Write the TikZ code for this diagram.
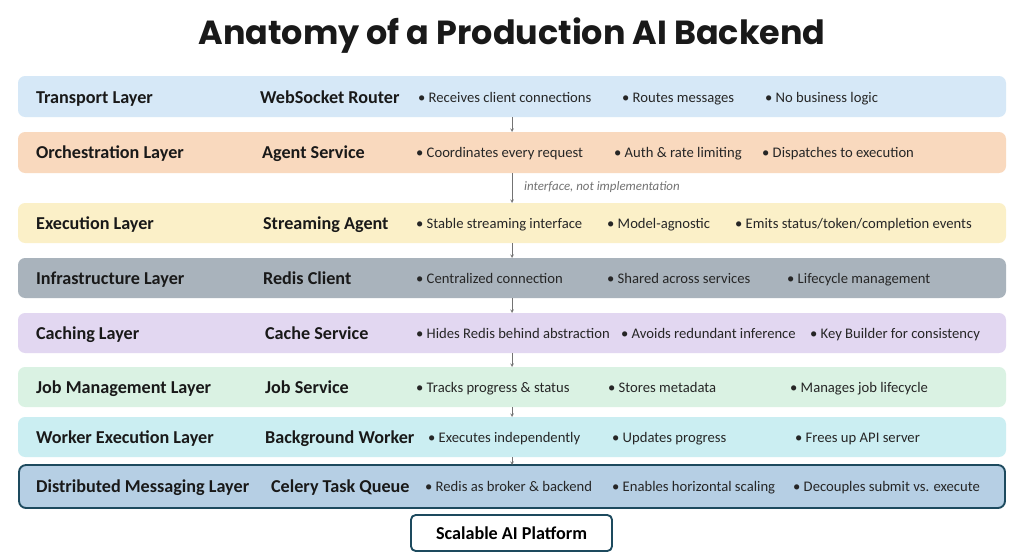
\documentclass[tikz,border=0pt]{standalone}
\usepackage{fontspec}
\setmainfont{Carlito}
\newfontfamily\titlefont{Poppins}
\begin{document}
\begin{tikzpicture}[x=0.03cm,y=-0.03cm,
  band/.style={rounded corners=6pt,draw=none},
  lname/.style={anchor=base west,font=\fontsize{15.5}{17}\selectfont\bfseries,text=black!90},
  comp/.style={anchor=base west,font=\fontsize{15.5}{17}\selectfont\bfseries,text=black!90},
  bul/.style={anchor=base west,font=\fontsize{12.5}{15}\selectfont,text=black!85},
  arr/.style={-stealth,draw=black!55,thin}]
\useasboundingbox (0,0) rectangle (1024,559);
\fill[white] (0,0) rectangle (1024,559);
\node[font=\titlefont\fontsize{28.5}{31}\selectfont\bfseries,text=black!90] (title) at (512,36) {Anatomy of a Production AI Backend};
\definecolor{c1}{HTML}{D6E8F7}\definecolor{c2}{HTML}{F9D9BE}\definecolor{c3}{HTML}{FBF0C8}
\definecolor{c4}{HTML}{A9B3BC}\definecolor{c5}{HTML}{E2D7F1}\definecolor{c6}{HTML}{DAF2E3}
\definecolor{c7}{HTML}{CBEEF2}\definecolor{c8}{HTML}{B6CFE4}\definecolor{c8b}{HTML}{1D4A5E}
% bands
\foreach \n/\t/\b/\c in {b1/76/117/c1,b2/132/173/c2,b3/203/243/c3,b4/258/298/c4,b5/313/353/c5,b6/367/407/c6,b7/417/457/c7}{
  \fill[band,fill=\c] (18,\t) rectangle (1006,\b);
  \coordinate (\n t) at (512,\t); \coordinate (\n b) at (512,\b);
}
\draw[band,fill=c8,draw=c8b,line width=1.6pt] (19,465) rectangle (1005,508);
\coordinate (b8t) at (512,465);
\draw[arr] (b1b) -- (b2t);
\draw[arr] (b2b) -- (b3t);
\node[anchor=west,font=\fontsize{11}{13}\selectfont\itshape,text=black!55] (lbl) at (520,187) {interface, not implementation};
\draw[arr] (b3b) -- (b4t);
\draw[arr] (b4b) -- (b5t);
\draw[arr] (b5b) -- (b6t);
\draw[arr] (b6b) -- (b7t);
\draw[arr] (b7b) -- (b8t);
% rows
\newcommand\rowtxt[9]{%
  \node[lname] at (32,#1+6) {#2};
  \node[comp] at (#3,#1+6) {#4};
  \node[bul] at (#5,#1+5) {• #6};
  \node[bul] at (#7,#1+5) {• #8};
  \node[bul] at #9;}
\rowtxt{97}{Transport Layer}{256}{WebSocket Router}{414}{Receives client connections}{618}{Routes messages}{(761,102) {• No business logic}}
\rowtxt{152}{Orchestration Layer}{258}{Agent Service}{412}{Coordinates every request}{610}{Auth \& rate limiting}{(758,157) {• Dispatches to execution}}
\rowtxt{223}{Execution Layer}{259}{Streaming Agent}{412}{Stable streaming interface}{603}{Model-agnostic}{(731,228) {• Emits status/token/completion events}}
\rowtxt{278}{Infrastructure Layer}{259}{Redis Client}{412}{Centralized connection}{603}{Shared across services}{(783,283) {• Lifecycle management}}
\rowtxt{333}{Caching Layer}{261}{Cache Service}{412}{Hides Redis behind abstraction}{617}{Avoids redundant inference}{(806,338) {• Key Builder for consistency}}
\rowtxt{387}{Job Management Layer}{261}{Job Service}{412}{Tracks progress \& status}{604}{Stores metadata}{(786,392) {• Manages job lifecycle}}
\rowtxt{437}{Worker Execution Layer}{261}{Background Worker}{424}{Executes independently}{608}{Updates progress}{(791,442) {• Frees up API server}}
\rowtxt{486}{Distributed Messaging Layer}{267}{Celery Task Queue}{421}{Redis as broker \& backend}{608}{Enables horizontal scaling}{(789,491) {• Decouples submit vs. execute}}
\draw[draw=c8b,line width=1.6pt,rounded corners=4pt,fill=white] (411,515) rectangle (612,551);
\node[font=\fontsize{15.5}{17}\selectfont\bfseries] (sap) at (511.5,533) {Scalable AI Platform};
\end{tikzpicture}
\end{document}
